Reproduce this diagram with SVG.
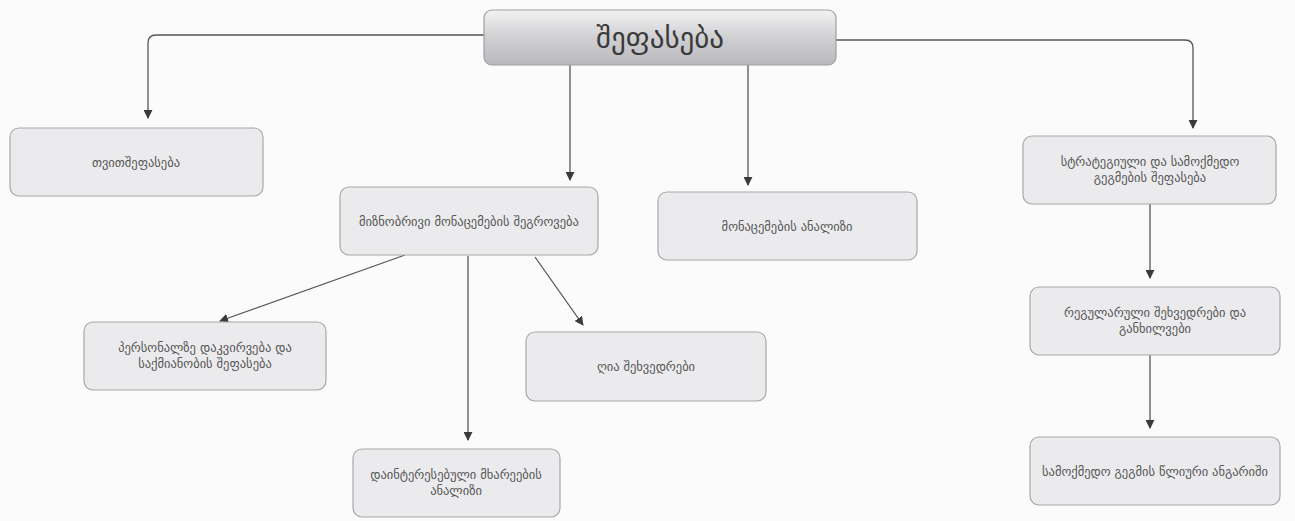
<svg xmlns="http://www.w3.org/2000/svg" width="1295" height="521" viewBox="0 0 1295 521">
<defs>
<linearGradient id="rootg" x1="0" y1="0" x2="0" y2="1">
<stop offset="0" stop-color="#f2f2f3"/>
<stop offset="0.5" stop-color="#d0d0d3"/>
<stop offset="1" stop-color="#b9b9bd"/>
</linearGradient>
<marker id="arr" viewBox="0 0 10 10" refX="9" refY="5" markerWidth="9" markerHeight="9" markerUnits="userSpaceOnUse" orient="auto">
<path d="M0,0 L10,5 L0,10 z" fill="#3a3a3a"/>
</marker>
<style>
.box{fill:#ebebed;stroke:#a8a8a8;stroke-width:1.2}
.t{font-family:"DejaVu Sans",sans-serif;font-size:12.5px;fill:#555;text-anchor:middle}
.rt{font-family:"DejaVu Sans",sans-serif;font-size:29px;fill:#3a3a3a;text-anchor:middle}
.c{fill:none;stroke:#555;stroke-width:1.3;marker-end:url(#arr)}
</style>
</defs>
<rect width="1295" height="521" fill="#fbfbfb"/>
<g id="connectors">
<path class="c" d="M484,35 L156,35 Q148,35 148,43 L148,118"/>
<path class="c" d="M836,40 L1185,40 Q1193,40 1193,48 L1193,128"/>
<path class="c" d="M570,65 L570,180"/>
<path class="c" d="M748,65 L748,185"/>
<path class="c" d="M405,255 L220,321"/>
<path class="c" d="M468,256 L468,440"/>
<path class="c" d="M535,257 L583,325"/>
<path class="c" d="M1150,204 L1150,278"/>
<path class="c" d="M1150,355 L1150,428"/>
</g>
<g id="root">
<rect x="484" y="10" width="352" height="55" rx="8" fill="url(#rootg)" stroke="#a0a0a0" stroke-width="1.2"/>
<text class="rt" x="660" y="48">შეფასება</text>
</g>
<g id="n1">
<rect class="box" x="10" y="128" width="253" height="68" rx="9"/>
<text class="t" x="136" y="167">თვითშეფასება</text>
</g>
<g id="n2">
<rect class="box" x="340" y="187" width="258" height="68" rx="9"/>
<text class="t" x="469" y="226">მიზნობრივი მონაცემების შეგროვება</text>
</g>
<g id="n3">
<rect class="box" x="658" y="192" width="259" height="68" rx="9"/>
<text class="t" x="787" y="231">მონაცემების ანალიზი</text>
</g>
<g id="n4">
<rect class="box" x="1023" y="136" width="253" height="68" rx="9"/>
<text class="t" x="1150" y="166">სტრატეგიული და სამოქმედო</text>
<text class="t" x="1150" y="182">გეგმების შეფასება</text>
</g>
<g id="n5">
<rect class="box" x="84" y="322" width="242" height="68" rx="9"/>
<text class="t" x="205" y="352">პერსონალზე დაკვირვება და</text>
<text class="t" x="205" y="368">საქმიანობის შეფასება</text>
</g>
<g id="n6">
<rect class="box" x="526" y="332" width="240" height="69" rx="9"/>
<text class="t" x="646" y="371">ღია შეხვედრები</text>
</g>
<g id="n7">
<rect class="box" x="1030" y="287" width="250" height="68" rx="9"/>
<text class="t" x="1155" y="317">რეგულარული შეხვედრები და</text>
<text class="t" x="1155" y="333">განხილვები</text>
</g>
<g id="n8">
<rect class="box" x="1030" y="437" width="250" height="68" rx="9"/>
<text class="t" x="1155" y="476">სამოქმედო გეგმის წლიური ანგარიში</text>
</g>
<g id="n9">
<rect class="box" x="353" y="449" width="207" height="68" rx="9"/>
<text class="t" x="456" y="479">დაინტერესებული მხარეების</text>
<text class="t" x="456" y="495">ანალიზი</text>
</g>
</svg>
